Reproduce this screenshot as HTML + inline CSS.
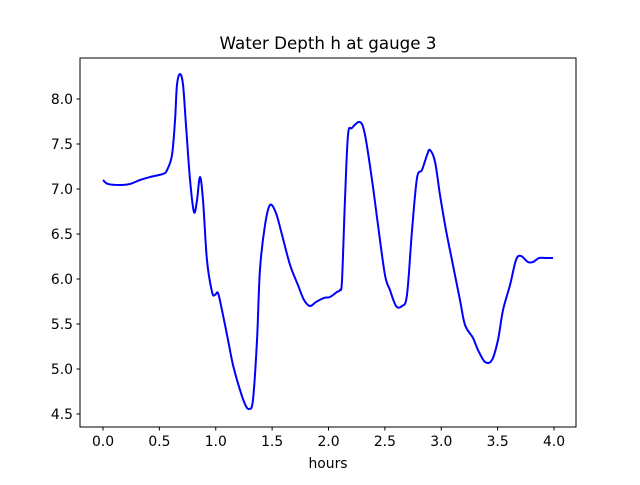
<!DOCTYPE html>
<html><head><meta charset="utf-8"><style>
body{margin:0;background:#fff}
svg text{font-family:"DejaVu Sans","Liberation Sans",sans-serif;fill:#000}
</style></head><body>
<svg id="chart" width="640" height="480" viewBox="0 0 640 480" xmlns="http://www.w3.org/2000/svg">
<rect x="0" y="0" width="640" height="480" fill="#fff"/>
<text x="328" y="49" font-size="16.7" text-anchor="middle">Water Depth h at gauge 3</text>
<g id="ticks"></g>
<path id="line" fill="none" stroke="#0000ff" stroke-width="2" stroke-linejoin="round"/>
<rect x="80" y="58" width="496" height="369" fill="none" stroke="#000" stroke-width="1"/>
<text x="328" y="468" font-size="13.9" text-anchor="middle">hours</text>
</svg>
<script>
const hours=[0,0.044,0.151,0.239,0.328,0.417,0.532,0.568,0.612,0.639,0.656,0.683,0.710,0.736,0.772,0.807,0.834,0.860,0.887,0.922,0.967,0.993,1.020,1.055,1.109,1.153,1.215,1.259,1.295,1.330,1.366,1.392,1.437,1.481,1.534,1.588,1.659,1.729,1.783,1.836,1.889,1.960,2.013,2.075,2.102,2.120,2.146,2.173,2.208,2.279,2.324,2.386,2.439,2.501,2.545,2.599,2.652,2.696,2.741,2.785,2.829,2.874,2.900,2.945,2.989,3.042,3.095,3.166,3.211,3.282,3.326,3.388,3.450,3.503,3.548,3.610,3.663,3.707,3.769,3.814,3.867,3.929,3.991];
const depth=[7.10,7.056,7.044,7.056,7.10,7.133,7.167,7.211,7.378,7.767,8.156,8.278,8.156,7.711,7.10,6.744,6.878,7.133,6.878,6.211,5.856,5.822,5.844,5.656,5.322,5.044,4.767,4.611,4.556,4.656,5.322,6.10,6.60,6.822,6.733,6.489,6.156,5.933,5.767,5.70,5.744,5.789,5.80,5.856,5.878,5.989,6.878,7.60,7.678,7.744,7.60,7.10,6.60,6.044,5.878,5.70,5.70,5.822,6.544,7.122,7.211,7.378,7.433,7.30,6.933,6.544,6.211,5.767,5.489,5.344,5.211,5.078,5.10,5.322,5.656,5.933,6.211,6.256,6.189,6.189,6.233,6.233,6.233];
const xTicks=[0,0.5,1,1.5,2,2.5,3,3.5,4];
const yTicks=[4.5,5,5.5,6,6.5,7,7.5,8];
const xS=v=>103+v*112.75;
const yS=v=>99+(8-v)*90;
const NS="http://www.w3.org/2000/svg";
const g=document.getElementById('ticks');
xTicks.forEach(t=>{
  const l=document.createElementNS(NS,'line');
  l.setAttribute('x1',xS(t));l.setAttribute('x2',xS(t));l.setAttribute('y1',427);l.setAttribute('y2',430.5);l.setAttribute('stroke','#000');
  
  
  g.appendChild(l);
  const tx=document.createElementNS(NS,'text');
  tx.setAttribute('x',xS(t));tx.setAttribute('y',446);tx.setAttribute('font-size','13.9');tx.setAttribute('text-anchor','middle');
  tx.textContent=t.toFixed(1);
  
  
  g.appendChild(tx);
});
yTicks.forEach(t=>{
  const l=document.createElementNS(NS,'line');
  l.setAttribute('x1',76.5);l.setAttribute('x2',80);l.setAttribute('y1',yS(t));l.setAttribute('y2',yS(t));l.setAttribute('stroke','#000');
  
  
  g.appendChild(l);
  const tx=document.createElementNS(NS,'text');
  tx.setAttribute('x',73);tx.setAttribute('y',yS(t)+5);tx.setAttribute('font-size','13.9');tx.setAttribute('text-anchor','end');
  tx.textContent=t.toFixed(1);
  
  
  g.appendChild(tx);
});
const P=hours.map((h,i)=>[xS(h),yS(depth[i])]);
let d='M'+P[0][0]+','+P[0][1];
for(let i=0;i<P.length-1;i++){
  const p0=P[Math.max(0,i-1)],p1=P[i],p2=P[i+1],p3=P[Math.min(P.length-1,i+2)];
  const c1=[p1[0]+(p2[0]-p0[0])/6,p1[1]+(p2[1]-p0[1])/6];
  const c2=[p2[0]-(p3[0]-p1[0])/6,p2[1]-(p3[1]-p1[1])/6];
  d+=' C'+c1+' '+c2+' '+p2;
}
document.getElementById('line').setAttribute('d',d);
</script>
</body></html>
